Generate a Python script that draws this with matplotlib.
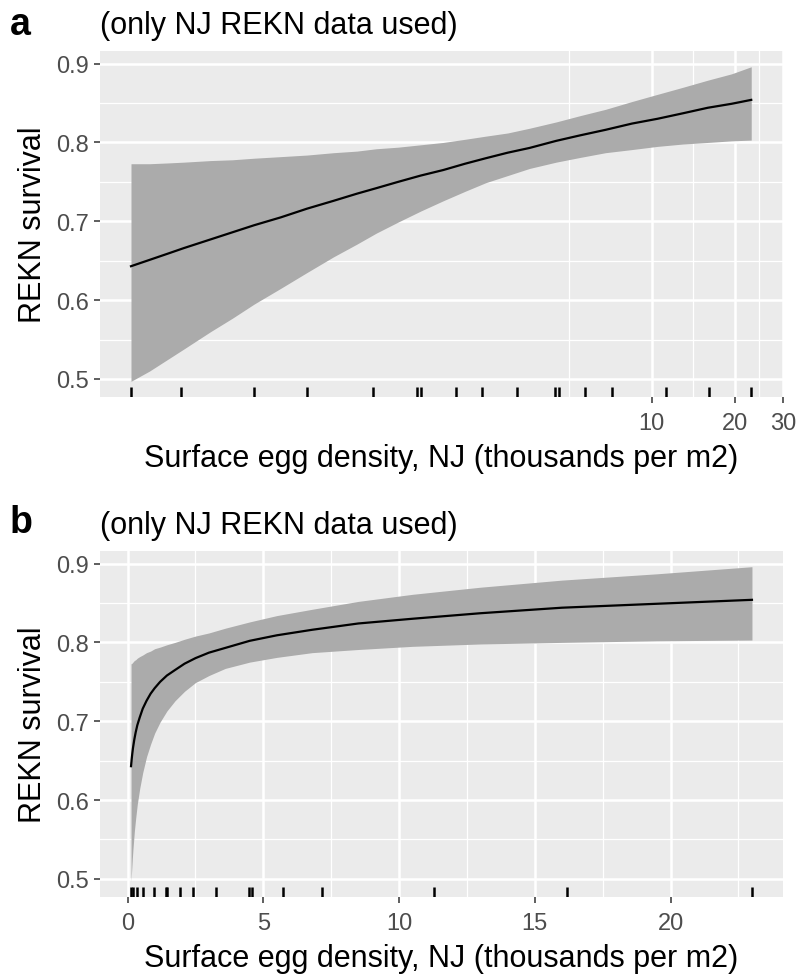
import matplotlib
matplotlib.use("Agg")
import matplotlib.pyplot as plt
from matplotlib.ticker import FixedLocator, NullFormatter

plt.rcParams['font.family'] = ['Liberation Sans', 'DejaVu Sans']

# fitted curve (density in thousands per m2)
density = [0.1285, 0.15, 0.175, 0.2, 0.25, 0.3, 0.36, 0.45, 0.56, 0.7, 0.85, 1.0,
           1.2, 1.45, 1.75, 2.1, 2.5, 3.0, 3.6, 4.5, 5.5, 6.8, 8.5, 10.5, 13, 16,
           19.5, 23.0]
survival = [0.643, 0.651, 0.659, 0.666, 0.677, 0.686, 0.695, 0.705, 0.716, 0.726,
            0.735, 0.742, 0.750, 0.758, 0.765, 0.773, 0.780, 0.787, 0.793, 0.802,
            0.809, 0.816, 0.824, 0.830, 0.837, 0.844, 0.849, 0.854]
lower = [0.497, 0.510, 0.525, 0.538, 0.560, 0.577, 0.595, 0.615, 0.635, 0.655,
         0.671, 0.685, 0.699, 0.713, 0.726, 0.738, 0.749, 0.758, 0.767, 0.775,
         0.781, 0.787, 0.791, 0.795, 0.798, 0.800, 0.802, 0.803]
upper = [0.773, 0.773, 0.774, 0.775, 0.777, 0.778, 0.780, 0.782, 0.784, 0.787,
         0.789, 0.792, 0.794, 0.797, 0.800, 0.804, 0.808, 0.812, 0.818, 0.826,
         0.834, 0.842, 0.852, 0.861, 0.870, 0.879, 0.887, 0.896]

# observed densities (rug)
rug_density = [0.1285, 0.195, 0.358, 0.562, 0.975, 1.41, 1.45, 1.95, 2.42, 3.24,
               4.47, 4.60, 5.72, 7.16, 11.3, 16.2, 23.0]

y_ticks = [0.5, 0.6, 0.7, 0.8, 0.9]
y_minor = [0.55, 0.65, 0.75, 0.85]
xa_ticks = [10, 20, 30]
xa_minor = [5, 14.1, 24.5]
xb_ticks = [0, 5, 10, 15, 20]
xb_minor = [2.5, 7.5, 12.5, 17.5, 22.5]

title = "(only NJ REKN data used)"
xlab = "Surface egg density, NJ (thousands per m2)"
ylab = "REKN survival"

fig = plt.figure(figsize=(7.98, 9.78), dpi=100)
ax_a = fig.add_axes([0.1253, 0.5930, 0.8559, 0.3538])
ax_b = fig.add_axes([0.1253, 0.0818, 0.8559, 0.3538])

ylo = min(lower) - 0.05 * (max(upper) - min(lower))
yhi = max(upper) + 0.05 * (max(upper) - min(lower))


def draw(ax):
    ax.set_facecolor('#EBEBEB')
    for s in ax.spines.values():
        s.set_visible(False)
    ax.set_axisbelow(True)
    ax.fill_between(density, lower, upper, color='#ABABAB', lw=0)
    ax.plot(density, survival, color='black', lw=1.6)
    ax.vlines(rug_density, 0, 0.03, transform=ax.get_xaxis_transform(),
              color='black', lw=1.8)
    ax.set_yticks(y_ticks, labels=[str(v) for v in y_ticks])
    ax.yaxis.set_minor_locator(FixedLocator(y_minor))
    ax.set_ylim(ylo, yhi)
    ax.grid(which='major', color='white', lw=1.8)
    ax.grid(which='minor', color='white', lw=0.9)
    ax.tick_params(which='major', length=4, width=1.1, color='#333333',
                   labelsize=17, labelcolor='#4D4D4D', pad=4)
    ax.tick_params(axis='x', which='major', pad=7)
    ax.tick_params(which='minor', length=0)
    ax.set_xlabel(xlab, fontsize=22, labelpad=6)
    ax.set_ylabel(ylab, fontsize=22, labelpad=6)
    ax.text(0, 1.053, title, transform=ax.transAxes, ha='left', va='baseline',
            fontsize=22)


# a: log scale
draw(ax_a)
ax_a.set_xscale('log')
span = (max(density) / min(density)) ** 0.05
ax_a.set_xlim(min(density) / span, max(density) * span)
ax_a.set_xticks(xa_ticks, labels=[str(v) for v in xa_ticks])
ax_a.xaxis.set_minor_locator(FixedLocator(xa_minor))
ax_a.xaxis.set_minor_formatter(NullFormatter())

# b: linear scale
draw(ax_b)
pad = 0.05 * (max(density) - min(density))
ax_b.set_xlim(min(density) - pad, max(density) + pad)
ax_b.set_xticks(xb_ticks, labels=[str(v) for v in xb_ticks])
ax_b.xaxis.set_minor_locator(FixedLocator(xb_minor))

fig.text(10 / 798, 1 - 35 / 978, 'a', fontsize=27, fontweight='bold', va='baseline')
fig.text(10 / 798, 1 - 533 / 978, 'b', fontsize=27, fontweight='bold', va='baseline')

fig.savefig('out.png', dpi=100)
